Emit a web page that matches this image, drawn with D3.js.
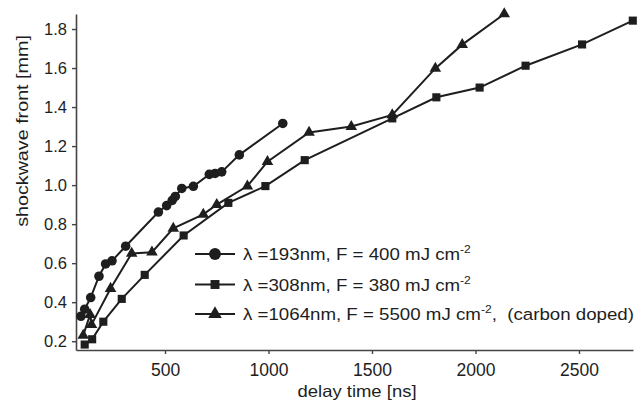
<!DOCTYPE html>
<html>
<head>
<meta charset="utf-8">
<script src="https://cdn.jsdelivr.net/npm/d3@7"></script>
<style>
  body { margin: 0; background: #fff; }
  svg { font-family: "Liberation Sans", Arial, Helvetica, sans-serif; }
</style>
</head>
<body>
<div id="chart"></div>
<script>
// delay time [ns] and shockwave front [mm]
c193_t = [94, 112, 141, 181, 213, 244, 310, 468, 508, 535, 550, 581, 637, 714, 742, 774, 859, 1069];
c193_s = [0.328, 0.364, 0.424, 0.533, 0.596, 0.612, 0.687, 0.862, 0.895, 0.922, 0.942, 0.983, 0.994, 1.055, 1.060, 1.068, 1.155, 1.316];

s308_t = [112, 148, 202, 291, 402, 590, 806, 985, 1175, 1598, 1811, 2020, 2242, 2515, 2760];
s308_s = [0.183, 0.210, 0.300, 0.417, 0.540, 0.742, 0.909, 0.995, 1.128, 1.342, 1.450, 1.500, 1.612, 1.721, 1.843];

t1064_t = [105, 138, 145, 237, 339, 437, 540, 685, 750, 898, 995, 1196, 1400, 1598, 1806, 1936, 2139];
t1064_s = [0.230, 0.336, 0.285, 0.470, 0.650, 0.656, 0.778, 0.850, 0.900, 0.995, 1.120, 1.270, 1.300, 1.360, 1.598, 1.720, 1.877];

xTicks = [500, 1000, 1500, 2000, 2500];
yTicks = [0.2, 0.4, 0.6, 0.8, 1.0, 1.2, 1.4, 1.6, 1.8];

legendLabels = [
  ["λ =193nm, F = 400 mJ cm", "-2", ""],
  ["λ =308nm, F = 380 mJ cm", "-2", ""],
  ["λ =1064nm, F = 5500 mJ cm", "-2", ",\u00a0 (carbon doped)"]
];

ink = "#1e1e1e";
width = 638;
height = 401;

const svg = d3.select("#chart").append("svg")
    .attr("width", width)
    .attr("height", height);

const x = d3.scaleLinear().domain([70, 2761]).range([76, 633]);
const y = d3.scaleLinear().domain([0.155, 1.877]).range([350, 14]);

// axes
const xAxis = svg.append("g")
    .attr("transform", "translate(0,350)")
    .call(d3.axisBottom(x).tickValues(xTicks).tickSize(4).tickSizeOuter(0).tickPadding(10)
      .tickFormat(d3.format("d")));
const yAxis = svg.append("g")
    .attr("transform", "translate(76,0)")
    .call(d3.axisLeft(y).tickValues(yTicks).tickSize(4).tickSizeOuter(0).tickPadding(5)
      .tickFormat(d3.format(".1f")));

[xAxis, yAxis].forEach(a => {
  a.select(".domain").attr("stroke", "#444").attr("stroke-width", 1.6);
  a.selectAll(".tick line").attr("stroke", "#444").attr("stroke-width", 1.4);
  a.selectAll(".tick text").attr("fill", ink);
});
xAxis.selectAll(".tick text").attr("font-size", 17.5);
yAxis.selectAll(".tick text").attr("font-size", 16.5);

svg.append("text")
    .attr("transform", "translate(357,397) scale(1.12,1)")
    .attr("text-anchor", "middle")
    .attr("font-size", 16.5)
    .attr("fill", ink)
    .text("delay time [ns]");

svg.append("text")
    .attr("transform", "translate(28,131) rotate(-90) scale(1.16,1)")
    .attr("text-anchor", "middle")
    .attr("font-size", 17)
    .attr("fill", ink)
    .text("shockwave front [mm]");

// series
const series = [
  {t: c193_t, s: c193_s, shape: "circle"},
  {t: s308_t, s: s308_s, shape: "square"},
  {t: t1064_t, s: t1064_s, shape: "triangle"}
];

const symbolOf = {
  circle: d3.symbolCircle,
  square: d3.symbolSquare,
  triangle: d3.symbolTriangle
};
const sizeOf = {circle: 72, square: 66, triangle: 58};

const line = d3.line().x(d => x(d[0])).y(d => y(d[1]));

series.forEach(ser => {
  const pts = ser.t.map((t, i) => [t, ser.s[i]]);
  svg.append("path")
      .datum(pts)
      .attr("fill", "none")
      .attr("stroke", ink)
      .attr("stroke-width", 2)
      .attr("d", line);
  svg.append("g").selectAll("path")
    .data(pts)
    .join("path")
      .attr("transform", d => `translate(${x(d[0])},${y(d[1])})`)
      .attr("d", d3.symbol().type(symbolOf[ser.shape]).size(sizeOf[ser.shape]))
      .attr("fill", ink);
});

// legend
const legendY = [254, 284.5, 314];
const legSize = {circle: 110, square: 80, triangle: 80};
series.forEach((ser, i) => {
  const g = svg.append("g").attr("transform", `translate(0,${legendY[i]})`);
  g.append("line")
      .attr("x1", 195).attr("x2", 235)
      .attr("stroke", ink).attr("stroke-width", 2);
  g.append("path")
      .attr("transform", "translate(215,0)")
      .attr("d", d3.symbol().type(symbolOf[ser.shape]).size(legSize[ser.shape]))
      .attr("fill", ink);
  const txt = g.append("text")
      .attr("transform", "translate(243,6) scale(1.1,1)")
      .attr("font-size", 17)
      .attr("fill", ink);
  const lab = legendLabels[i];
  txt.append("tspan").text(lab[0]);
  txt.append("tspan").attr("dy", -7).attr("font-size", 11).text(lab[1]);
  txt.append("tspan").attr("dy", 7).text(lab[2]);
});
</script>
</body>
</html>
